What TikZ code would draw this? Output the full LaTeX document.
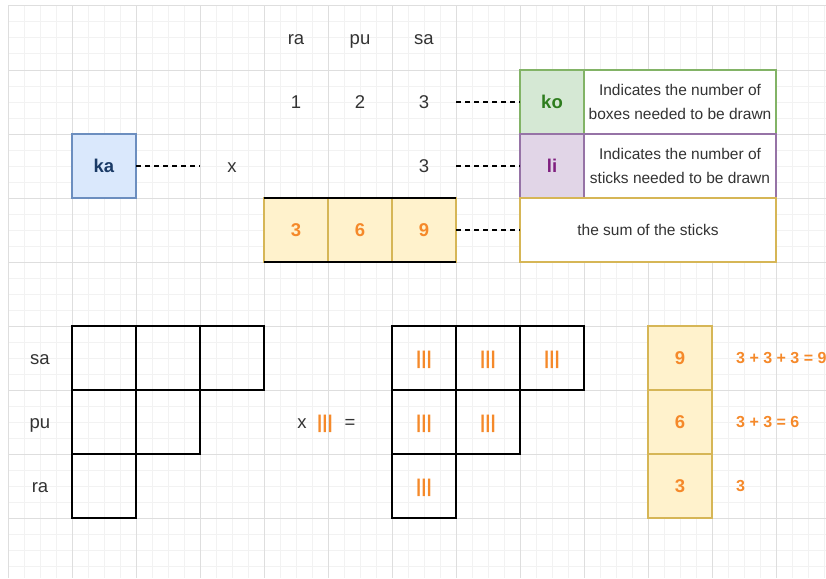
\documentclass[tikz,border=0pt]{standalone}
\usepackage{fontspec}
\setmainfont{Liberation Sans}
\definecolor{ink}{HTML}{333333}
\definecolor{gridmajor}{HTML}{DEDEDE}
\definecolor{gridminor}{HTML}{F2F2F2}
\definecolor{stick}{HTML}{F5892A}
\definecolor{yfill}{HTML}{FFF2CC}
\definecolor{yline}{HTML}{D6B656}
\definecolor{gfill}{HTML}{D5E8D4}
\definecolor{gline}{HTML}{82B366}
\definecolor{gtext}{HTML}{2E7D1E}
\definecolor{pfill}{HTML}{E1D5E7}
\definecolor{pline}{HTML}{9673A6}
\definecolor{ptext}{HTML}{7F1F7F}
\definecolor{bfill}{HTML}{DAE8FC}
\definecolor{bline}{HTML}{6C8EBF}
\definecolor{btext}{HTML}{1A3A66}
\begin{document}
\begin{tikzpicture}[x=1pt,y=-1pt,
  big/.style={font=\fontsize{18.5}{22}\selectfont, text height=13.3pt, text depth=0pt},
  lbl/.style={big, text=ink, inner sep=0pt, minimum width=64pt, minimum height=64pt},
  cell/.style={draw=black, line width=1.3pt, minimum width=64pt, minimum height=64pt, inner sep=0pt, outer sep=0pt},
  sumcell/.style={draw=yline, line width=1.2pt, fill=yfill, minimum width=64pt, minimum height=64pt,
    inner sep=0pt, outer sep=0pt, text=stick, font=\fontsize{18.5}{22}\selectfont\bfseries,
    text height=13.3pt, text depth=0pt},
  sticks/.style={text=stick, font=\fontsize{18.5}{22}\selectfont\bfseries, text height=13.3pt, text depth=0pt},
  key/.style={line width=1.2pt, minimum width=64pt, minimum height=64pt, inner sep=0pt, outer sep=0pt,
    font=\fontsize{18.5}{22}\selectfont\bfseries, text height=13.3pt, text depth=0pt},
  note/.style={draw, line width=1.2pt, fill=white, minimum height=64pt, inner sep=0pt, outer sep=0pt,
    align=center, text=ink, font=\fontsize{15.5}{24}\selectfont},
  eq/.style={anchor=west, inner sep=0pt, text=stick, font=\fontsize{16}{19}\selectfont\bfseries,
    text height=11.5pt, text depth=0pt},
  link/.style={draw=black, line width=1.1pt, dash pattern=on 5pt off 4pt}
]
\useasboundingbox (0,0) rectangle (826,578);

% background grid
\begin{scope}
  \clip (8,6) rectangle (826,578);
  \foreach \gx in {8,24,...,824} \draw[gridminor, line width=1pt] (\gx,6) -- (\gx,578);
  \foreach \gy in {6,22,...,578} \draw[gridminor, line width=1pt] (8,\gy) -- (826,\gy);
  \foreach \gx in {8,72,...,776} \draw[gridmajor, line width=1pt] (\gx,6) -- (\gx,578);
  \foreach \gy in {6,70,...,518} \draw[gridmajor, line width=1pt] (8,\gy) -- (826,\gy);
\end{scope}

% column headings and factors
\node[lbl] (hra) at (296,38) {ra};
\node[lbl] (hpu) at (360,38) {pu};
\node[lbl] (hsa) at (424,38) {sa};
\node[lbl] (fone) at (296,102) {1};
\node[lbl] (ftwo) at (360,102) {2};
\node[lbl] (fthree) at (424,102) {3};
\node[lbl] (mthree) at (424,166) {3};
\node[lbl] (times) at (232,166) {x};

% ka box
\node[key, draw=bline, fill=bfill, text=btext] (ka) at (104,166) {ka};

% products row
\node[sumcell] (pthree) at (296,230) {3};
\node[sumcell] (psix) at (360,230) {6};
\node[sumcell] (pnine) at (424,230) {9};
\draw[black, line width=1.3pt] (pthree.north west) -- (pnine.north east);
\draw[black, line width=1.3pt] (pthree.south west) -- (pnine.south east);

% legend
\node[key, draw=gline, fill=gfill, text=gtext] (ko) at (552,102) {ko};
\node[note, draw=gline, minimum width=192pt] (kodesc) at (680,102) {Indicates the number of\\boxes needed to be drawn};
\node[key, draw=pline, fill=pfill, text=ptext] (li) at (552,166) {li};
\node[note, draw=pline, minimum width=192pt] (lidesc) at (680,166) {Indicates the number of\\sticks needed to be drawn};
\node[note, draw=yline, minimum width=256pt] (sumdesc) at (648,230) {the sum of the sticks};

% dashed connectors
\draw[link] (ka.east) -- (times.west);
\draw[link] (fthree.east) -- (ko.west);
\draw[link] (mthree.east) -- (li.west);
\draw[link] (pnine.east) -- (sumdesc.west);

% row labels
\node[lbl] (rsa) at (40,358) {sa};
\node[lbl] (rpu) at (40,422) {pu};
\node[lbl] (rra) at (40,486) {ra};

% empty boxes
\node[cell] (ea1) at (104,358) {};
\node[cell] (ea2) at (168,358) {};
\node[cell] (ea3) at (232,358) {};
\node[cell] (eb1) at (104,422) {};
\node[cell] (eb2) at (168,422) {};
\node[cell] (ec1) at (104,486) {};

% multiplication sign
\node[big, text=ink, inner sep=0pt] (mx) at (302,422) {x};
\node[sticks, inner sep=0pt] (ms) at (325,422) {|||};
\node[big, text=ink, inner sep=0pt] (meq) at (350,422) {=};

% boxes filled with sticks
\node[cell, sticks] (sa1) at (424,358) {|||};
\node[cell, sticks] (sa2) at (488,358) {|||};
\node[cell, sticks] (sa3) at (552,358) {|||};
\node[cell, sticks] (sb1) at (424,422) {|||};
\node[cell, sticks] (sb2) at (488,422) {|||};
\node[cell, sticks] (sc1) at (424,486) {|||};

% totals
\node[sumcell] (tnine) at (680,358) {9};
\node[sumcell] (tsix) at (680,422) {6};
\node[sumcell] (tthree) at (680,486) {3};
\node[eq] (enine) at (736,358) {3 + 3 + 3 = 9};
\node[eq] (esix) at (736,422) {3 + 3 = 6};
\node[eq] (ethree) at (736,486) {3};
\end{tikzpicture}
\end{document}
